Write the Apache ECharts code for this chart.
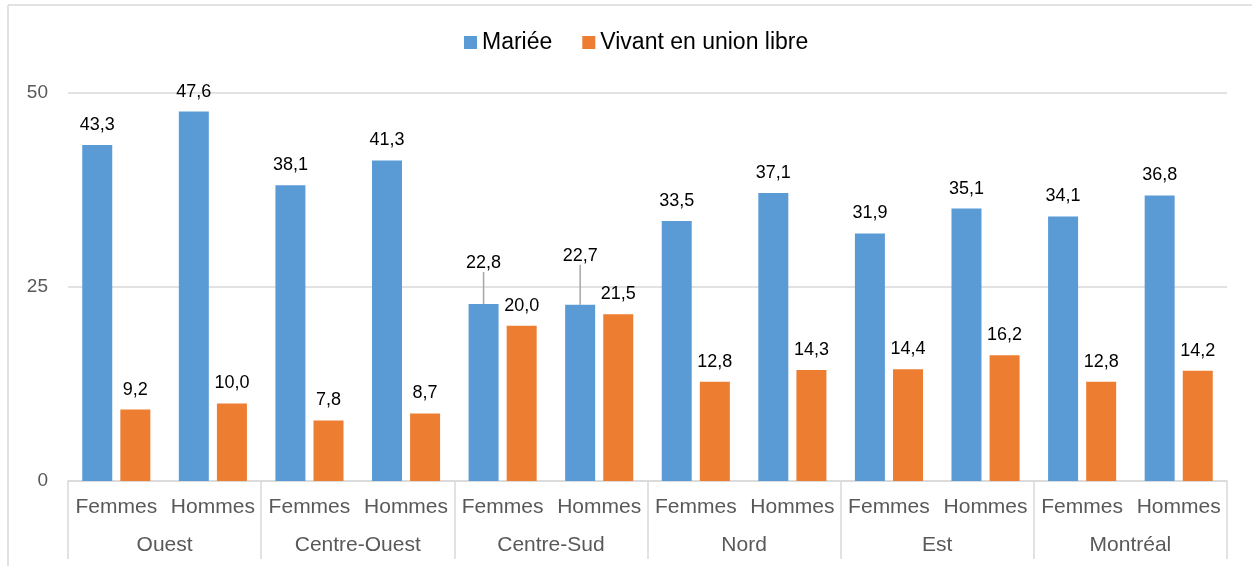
<!DOCTYPE html>
<html>
<head>
<meta charset="utf-8">
<script src="https://cdn.jsdelivr.net/npm/echarts@6/dist/echarts.min.js"></script>
<style>
html,body{margin:0;padding:0;background:#fff;}
#chart{width:1252px;height:566px;}
</style>
</head>
<body>
<div id="chart"></div>
<script>
var regions = ['Ouest', 'Centre-Ouest', 'Centre-Sud', 'Nord', 'Est', 'Montréal'];
var sexes = ['Femmes', 'Hommes'];
var mariee = [43.3, 47.6, 38.1, 41.3, 22.8, 22.7, 33.5, 37.1, 31.9, 35.1, 34.1, 36.8];
var unionLibre = [9.2, 10.0, 7.8, 8.7, 20.0, 21.5, 12.8, 14.3, 14.4, 16.2, 12.8, 14.2];
var yTicks = [0, 25, 50];
var seriesNames = ['Mariée', 'Vivant en union libre'];

var subCats = [];
regions.forEach(function () { sexes.forEach(function (s) { subCats.push(s); }); });

var FONT = '"Liberation Sans", Arial, sans-serif';
var movedLabels = { 4: -21, 5: -29 };

function fmt(v) { return v.toFixed(1).replace('.', ','); }

var marieeData = mariee.map(function (v, i) {
  var item = { value: v };
  if (movedLabels[i] !== undefined) {
    item.labelLine = { show: true, lineStyle: { color: '#a6a6a6', width: 1.5 } };
  }
  return item;
});

var chart = echarts.init(document.getElementById('chart'), null, { renderer: 'canvas' });
chart.setOption({
  animation: false,
  backgroundColor: '#fff',
  textStyle: { fontFamily: FONT },
  graphic: [
    { type: 'line', shape: { x1: 8, y1: 5, x2: 1252, y2: 5 }, style: { stroke: '#d9d9d9', lineWidth: 1.5 } },
    { type: 'line', shape: { x1: 8, y1: 5, x2: 8, y2: 566 }, style: { stroke: '#d9d9d9', lineWidth: 1.5 } }
  ],
  legend: {
    data: seriesNames,
    top: 26,
    left: 459,
    itemWidth: 13,
    itemHeight: 13,
    itemGap: 30,
    icon: 'rect',
    textStyle: { fontSize: 23, color: '#000', fontFamily: FONT }
  },
  grid: { left: 68, right: 25, top: 93, bottom: 85, containLabel: false },
  xAxis: [
    {
      type: 'category',
      data: subCats,
      position: 'bottom',
      axisLine: { show: true, lineStyle: { color: '#d9d9d9', width: 1.5 } },
      axisTick: { show: false },
      axisLabel: { interval: 0, margin: 16, fontSize: 21, color: '#595959', fontFamily: FONT }
    },
    {
      type: 'category',
      data: regions,
      position: 'bottom',
      axisLine: { show: false },
      axisTick: { show: true, interval: 0, length: 78, lineStyle: { color: '#d9d9d9', width: 1.5 } },
      axisLabel: { interval: 0, margin: 54, fontSize: 21, color: '#595959', fontFamily: FONT }
    }
  ],
  yAxis: {
    type: 'value',
    min: yTicks[0],
    max: yTicks[yTicks.length - 1],
    interval: yTicks[1] - yTicks[0],
    axisLine: { show: false },
    axisTick: { show: false },
    splitLine: { lineStyle: { color: '#d9d9d9', width: 1.5 } },
    axisLabel: { margin: 20, fontSize: 19, color: '#595959', fontFamily: FONT }
  },
  series: [
    {
      name: seriesNames[0],
      type: 'bar',
      xAxisIndex: 0,
      data: marieeData,
      barWidth: 30,
      barGap: '27%',
      itemStyle: { color: '#5B9BD5' },
      label: {
        show: true, position: 'top', distance: 11, fontSize: 18, color: '#000', fontFamily: FONT,
        formatter: function (p) { return fmt(p.value); }
      },
      labelLayout: function (params) {
        if (movedLabels[params.dataIndex] !== undefined) {
          return { dy: movedLabels[params.dataIndex] };
        }
        return {};
      }
    },
    {
      name: seriesNames[1],
      type: 'bar',
      xAxisIndex: 0,
      data: unionLibre,
      barWidth: 30,
      barGap: '27%',
      itemStyle: { color: '#ED7D31' },
      label: {
        show: true, position: 'top', distance: 11, fontSize: 18, color: '#000', fontFamily: FONT,
        formatter: function (p) { return fmt(p.value); }
      }
    }
  ]
});
</script>
</body>
</html>
